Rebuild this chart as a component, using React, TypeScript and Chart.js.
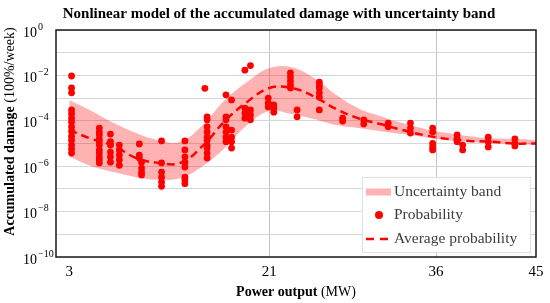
import { useEffect, useRef } from "react";
import { Chart, registerables } from "chart.js";

Chart.register(...registerables);

// ---- Axis ticks ----
const xTicks = [3, 21, 36, 45];
const yTickExponents = [0, -2, -4, -6, -8, -10];
const yDecades = [1, 1e-1, 1e-2, 1e-3, 1e-4, 1e-5, 1e-6, 1e-7, 1e-8, 1e-9, 1e-10];

// ---- Uncertainty band & average probability ----
const bandX = [3, 5, 7, 9, 11, 13, 15, 17, 19, 21, 23, 25, 27, 29, 31, 33, 35, 37, 39, 41, 43, 45];
const bandUpper = [8.3e-4, 2.7e-4, 7.9e-5, 2.9e-5, 1.4e-5, 1.2e-5, 6.5e-5, 8.3e-4, 5.1e-3, 2.1e-2, 2.3e-2, 7.8e-3, 1.4e-3, 3.6e-4, 1.6e-4, 7.9e-5, 4.4e-5, 2.9e-5, 2.1e-5, 1.7e-5, 1.6e-5, 1.4e-5];
const bandLower = [2.6e-6, 1.0e-6, 5.5e-7, 3.3e-7, 2.5e-7, 3.0e-7, 1.0e-6, 6.3e-6, 6.5e-5, 2.7e-4, 2.0e-4, 1.2e-4, 6.5e-5, 4.8e-5, 3.5e-5, 2.6e-5, 1.9e-5, 1.4e-5, 1.2e-5, 1.0e-5, 9.5e-6, 8.5e-6];
const averageProbability = [3.9e-5, 1.6e-5, 7.8e-6, 2.3e-6, 1.4e-6, 1.4e-6, 7.8e-6, 9.8e-5, 6.8e-4, 2.8e-3, 2.8e-3, 1.2e-3, 3.3e-4, 1.3e-4, 7.2e-5, 3.9e-5, 2.3e-5, 1.6e-5, 1.3e-5, 1.2e-5, 1.0e-5, 1.0e-5];

// ---- Probability observations (grouped by power output) ----
const probX = [3.2, 5.7, 6.7, 7.5, 9.3, 9.5, 11.3, 13.4, 15.2, 15.4, 17.1, 17.6, 18.8, 19.3, 20.9, 21.4, 22.9, 23.5, 25.5, 27.6, 29.5, 31.7, 33.7, 35.7, 37.9, 38.4, 40.7, 43.1];
const probY = [
  [9.4e-3, 2.8e-3, 1.7e-3, 3.0e-4, 2.0e-4, 1.3e-4, 8.9e-5, 5.4e-5, 3.5e-5, 2.1e-5, 1.4e-5, 8.5e-6, 5.7e-6, 3.8e-6],
  [4.8e-5, 3.2e-5, 2.4e-5, 1.6e-5, 1.2e-5, 8.5e-6, 5.2e-6, 3.8e-6, 2.6e-6, 1.9e-6, 1.4e-6],
  [2.6e-5, 1.2e-5, 8.5e-6, 4.2e-6, 2.6e-6, 1.5e-6],
  [8.5e-6, 5.2e-6, 3.1e-6, 1.9e-6, 1.1e-6],
  [9.5e-6, 3.1e-6, 2.3e-6],
  [1.5e-6, 8.3e-7, 5.5e-7, 4.1e-7],
  [1.3e-5, 1.4e-6, 5.5e-7, 3.3e-7, 2.0e-7, 1.3e-7],
  [1.3e-5, 5.2e-6, 2.6e-6, 1.5e-6, 9.2e-7, 3.3e-7, 2.5e-7, 1.7e-7],
  [2.7e-3],
  [1.5e-4, 1.1e-4, 5.4e-5, 3.2e-5, 1.9e-5, 1.4e-5, 8.5e-6, 6.3e-6, 3.8e-6, 2.3e-6],
  [1.4e-3, 1.5e-4, 1.1e-4, 5.4e-5, 3.2e-5, 1.9e-5, 1.2e-5],
  [8.3e-4, 3.9e-5, 1.9e-5, 1.2e-5, 6.3e-6],
  [1.7e-2, 3.6e-4, 2.2e-4, 1.3e-4],
  [2.7e-2, 3.0e-4, 1.8e-4, 1.1e-4],
  [1.0e-3, 6.1e-4, 4.1e-4],
  [5.0e-4, 3.6e-4, 2.4e-4],
  [1.3e-2, 8.5e-3, 5.6e-3, 3.8e-3, 2.8e-3],
  [3.0e-4, 1.5e-4],
  [5.1e-3, 3.8e-3, 2.8e-3, 1.7e-3, 1.1e-3, 3.0e-4],
  [1.3e-4, 9.8e-5],
  [1.1e-4, 7.2e-5],
  [7.9e-5, 5.4e-5],
  [7.9e-5, 4.8e-5, 2.9e-5],
  [4.8e-5, 3.2e-5, 1.0e-5, 7.1e-6, 5.2e-6],
  [2.4e-5, 1.7e-5, 1.2e-5],
  [8.5e-6, 5.2e-6],
  [1.9e-5, 1.2e-5, 7.1e-6],
  [1.6e-5, 1.0e-5, 7.8e-6],
];

const titleText = "Nonlinear model of the accumulated damage with uncertainty band";
const xTitleBold = "Power output";
const xTitleNormal = " (MW)";
const yTitleBold = "Accumulated damage";
const yTitleNormal = " (100%/week)";
const legendLabels = ["Uncertainty band", "Probability", "Average probability"];

const SERIF = '"Liberation Serif", "Times New Roman", serif';
const BAND_COLOR = "rgba(255, 0, 0, 0.3)";
const RED = "#ff0000";

const decorPlugin = {
  id: "decor",
  afterDraw(chart: any) {
    const { ctx, chartArea: ca, scales } = chart;
    ctx.save();

    // frame
    ctx.strokeStyle = "#1a1a1a";
    ctx.lineWidth = 1.5;
    ctx.strokeRect(ca.left, ca.top, ca.right - ca.left, ca.bottom - ca.top);

    // y tick labels 10^e
    ctx.fillStyle = "#000";
    ctx.textAlign = "left";
    ctx.textBaseline = "middle";
    for (const e of yTickExponents) {
      const py = scales.y.getPixelForValue(Math.pow(10, e));
      ctx.font = `14px ${SERIF}`;
      ctx.fillText("10", 23, py + 3);
      const w = ctx.measureText("10").width;
      ctx.font = `10px ${SERIF}`;
      const ex = e < 0 ? "\u2212" + Math.abs(e) : String(e);
      ctx.fillText(ex, 23 + w + 1, py - 3);
    }

    // title
    ctx.textAlign = "center";
    ctx.font = `bold 15px ${SERIF}`;
    ctx.fillText(titleText, 279, 14);

    // x title
    ctx.textAlign = "left";
    ctx.font = `bold 14px ${SERIF}`;
    const wxb = ctx.measureText(xTitleBold).width;
    ctx.font = `14px ${SERIF}`;
    const wxn = ctx.measureText(xTitleNormal).width;
    const cx = (ca.left + ca.right) / 2;
    const sx = cx - (wxb + wxn) / 2;
    ctx.font = `bold 14px ${SERIF}`;
    ctx.fillText(xTitleBold, sx, 292);
    ctx.font = `14px ${SERIF}`;
    ctx.fillText(xTitleNormal, sx + wxb, 292);

    // y title
    ctx.save();
    ctx.translate(10, 131.5);
    ctx.rotate(-Math.PI / 2);
    ctx.font = `bold 14px ${SERIF}`;
    const wyb = ctx.measureText(yTitleBold).width;
    ctx.font = `14px ${SERIF}`;
    const wyn = ctx.measureText(yTitleNormal).width;
    const sy = -(wyb + wyn) / 2;
    ctx.font = `bold 14px ${SERIF}`;
    ctx.fillText(yTitleBold, sy, 0);
    ctx.font = `14px ${SERIF}`;
    ctx.fillText(yTitleNormal, sy + wyb, 0);
    ctx.restore();

    // legend
    const lx = 362, ly = 177, lw = 168, lh = 75;
    ctx.fillStyle = "#ffffff";
    ctx.fillRect(lx, ly, lw, lh);
    ctx.strokeStyle = "#e0e0e0";
    ctx.lineWidth = 1;
    ctx.strokeRect(lx + 0.5, ly + 0.5, lw, lh);
    const rows = [192, 215, 239];
    ctx.fillStyle = BAND_COLOR;
    ctx.fillRect(366, rows[0] - 3.5, 25, 7);
    ctx.fillStyle = RED;
    ctx.beginPath();
    ctx.arc(379, rows[1], 4, 0, Math.PI * 2);
    ctx.fill();
    ctx.strokeStyle = RED;
    ctx.lineWidth = 2.5;
    ctx.setLineDash([8, 6]);
    ctx.beginPath();
    ctx.moveTo(366, rows[2]);
    ctx.lineTo(392, rows[2]);
    ctx.stroke();
    ctx.setLineDash([]);
    ctx.fillStyle = "#3c3c3c";
    ctx.font = `15.5px ${SERIF}`;
    ctx.textBaseline = "middle";
    legendLabels.forEach((t, i) => ctx.fillText(t, 394, rows[i]));

    ctx.restore();
  },
};

export default function App() {
  const canvasRef = useRef<HTMLCanvasElement | null>(null);

  useEffect(() => {
    document.body.style.margin = "0";
    const canvas = canvasRef.current;
    if (!canvas) return;

    const points: { x: number; y: number }[] = [];
    probX.forEach((x, i) => probY[i].forEach((y) => points.push({ x, y })));

    const chart = new Chart(canvas, {
      type: "scatter",
      data: {
        datasets: [
          {
            type: "line",
            label: "Average probability",
            data: bandX.map((x, i) => ({ x, y: averageProbability[i] })),
            borderColor: RED,
            borderWidth: 2.5,
            borderDash: [8, 5],
            pointRadius: 0,
            fill: false,
            tension: 0.4,
            order: 1,
          },
          {
            type: "scatter",
            label: "Probability",
            data: points,
            backgroundColor: RED,
            borderWidth: 0,
            pointRadius: 3.4,
            order: 2,
          },
          {
            type: "line",
            label: "Uncertainty band",
            data: bandX.map((x, i) => ({ x, y: bandUpper[i] })),
            borderWidth: 0,
            borderColor: "rgba(0,0,0,0)",
            backgroundColor: BAND_COLOR,
            pointRadius: 0,
            fill: "+1",
            tension: 0.4,
            order: 3,
          },
          {
            type: "line",
            label: "band lower",
            data: bandX.map((x, i) => ({ x, y: bandLower[i] })),
            borderWidth: 0,
            borderColor: "rgba(0,0,0,0)",
            pointRadius: 0,
            fill: false,
            tension: 0.4,
            order: 4,
          },
        ] as any,
      },
      options: {
        animation: false,
        responsive: true,
        maintainAspectRatio: false,
        layout: { padding: { top: 30, left: 23, right: 14, bottom: 0 } },
        plugins: {
          legend: { display: false },
          tooltip: { enabled: false },
          title: { display: false },
        },
        scales: {
          x: {
            type: "linear",
            min: 1.8,
            max: 45,
            afterBuildTicks: (scale: any) => {
              scale.ticks = xTicks.map((v) => ({ value: v }));
            },
            afterFit: (scale: any) => {
              scale.height = 46;
            },
            ticks: {
              autoSkip: false,
              maxRotation: 0,
              padding: 6,
              color: "#000",
              font: { family: SERIF, size: 15 },
              callback: (v: any) => String(v),
            },
            grid: {
              drawTicks: false,
              color: (c: any) =>
                c.tick && (c.tick.value === 21 || c.tick.value === 36) ? "#c4c4c4" : "rgba(0,0,0,0)",
              lineWidth: 1,
            },
            border: { display: false },
          },
          y: {
            type: "logarithmic",
            min: 1e-10,
            max: 1,
            afterBuildTicks: (scale: any) => {
              scale.ticks = yDecades.map((v) => ({ value: v }));
            },
            afterFit: (scale: any) => {
              scale.width = 33;
            },
            ticks: { display: false },
            grid: { drawTicks: false, color: "#d6d6d6", lineWidth: 1 },
            border: { display: false },
          },
        },
      },
      plugins: [decorPlugin],
    });

    return () => chart.destroy();
  }, []);

  return (
    <div style={{ width: 550, height: 303, position: "relative" }}>
      <canvas ref={canvasRef} />
    </div>
  );
}
